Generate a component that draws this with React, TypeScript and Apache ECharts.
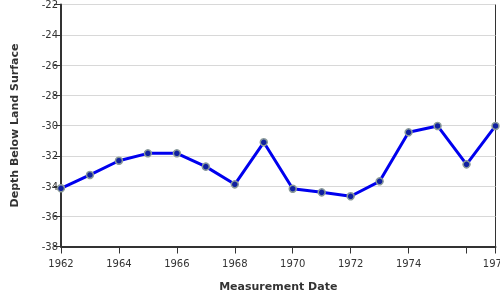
import React, { useEffect, useRef } from "react";
import * as echarts from "echarts";

const years = [1962, 1963, 1964, 1965, 1966, 1967, 1968, 1969, 1970, 1971, 1972, 1973, 1974, 1975, 1976, 1977];
const depths = [-34.15, -33.27, -32.33, -31.84, -31.84, -32.72, -33.89, -31.11, -34.18, -34.42, -34.68, -33.69, -30.45, -30.03, -32.57, -30.03];
const xTickLabels = ["1962", "1964", "1966", "1968", "1970", "1972", "1974", "1977"];
const yAxisTitle = "Depth Below Land Surface";
const xAxisTitle = "Measurement Date";

export default function App() {
  const ref = useRef<HTMLDivElement>(null);
  useEffect(() => {
    document.body.style.margin = "0";
    const chart = echarts.init(ref.current!, undefined, { renderer: "svg" });
    const font = "'DejaVu Sans', Verdana, sans-serif";
    chart.setOption({
      animation: false,
      textStyle: { fontFamily: font },
      grid: {
        left: 61,
        right: 4.5,
        top: 4.5,
        bottom: 53.5,
        containLabel: false,
        outerBoundsMode: "none",
        show: true,
        borderColor: "#333",
        borderWidth: 1,
      },
      xAxis: {
        type: "value",
        min: 1962,
        max: 1977,
        interval: 2,
        name: xAxisTitle,
        nameLocation: "middle",
        nameGap: 34,
        nameTextStyle: { fontFamily: font, fontSize: 11, fontWeight: "bold", color: "#333" },
        axisLine: { show: true, lineStyle: { color: "#333", width: 2 } },
        axisTick: { show: true, length: 7, lineStyle: { color: "#333", width: 1 } },
        axisLabel: {
          fontFamily: font,
          fontSize: 10,
          color: "#333",
          margin: 12,
          formatter: (v: number) => (xTickLabels.includes(String(v)) ? String(v) : ""),
        },
        splitLine: { show: false },
      },
      yAxis: {
        type: "value",
        min: -38,
        max: -22,
        interval: 2,
        name: yAxisTitle,
        nameLocation: "middle",
        nameGap: 41,
        nameTextStyle: { fontFamily: font, fontSize: 11, fontWeight: "bold", color: "#333" },
        axisLine: { show: true, lineStyle: { color: "#333", width: 2 } },
        axisTick: { show: true, length: 7, lineStyle: { color: "#333", width: 1 } },
        axisLabel: { fontFamily: font, fontSize: 10, color: "#333", margin: 3 },
        splitLine: { show: true, lineStyle: { color: "#d8d8d8", width: 1 } },
      },
      series: [
        {
          type: "line",
          data: years.map((y, i) => [y, depths[i]]),
          symbol: "circle",
          symbolSize: 7,
          showSymbol: true,
          lineStyle: { color: "#0000ee", width: 3 },
          itemStyle: { color: "#1020a0", borderColor: "#8a9a9a", borderWidth: 1.5 },
          emphasis: { disabled: true },
        },
      ],
    });
    return () => chart.dispose();
  }, []);
  return <div ref={ref} style={{ position: "fixed", left: 0, top: 0, width: 500, height: 300 }} />;
}
